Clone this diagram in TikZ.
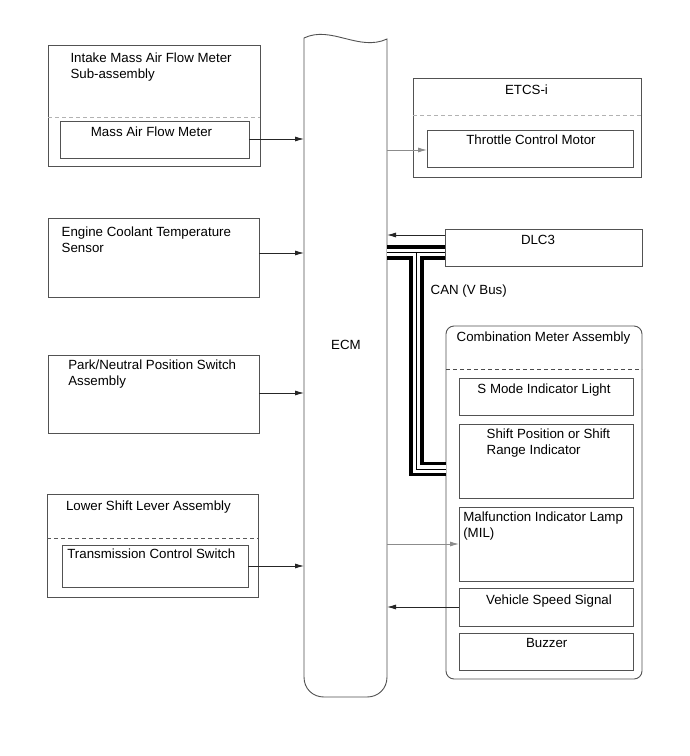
\documentclass[tikz,border=0pt]{standalone}
\usepackage{fontspec}
\setmainfont{Liberation Sans}
\usetikzlibrary{arrows.meta}
\begin{document}
\begin{tikzpicture}[x=1pt,y=-1pt,
  every node/.style={inner sep=0pt, outer sep=0pt, font=\fontsize{13.3}{16}\selectfont},
  box/.style={draw=black!68, line width=0.9pt, rectangle, anchor=north west},
  txt/.style={anchor=north west, align=left},
  ctxt/.style={anchor=north, align=center},
  dashline/.style={draw=#1, line width=0.9pt, dash pattern=on 4pt off 3pt},
  arr/.style={draw=black!85, line width=0.8pt, -{Latex[length=9pt,width=5pt]}},
  garr/.style={draw=black!45, line width=0.9pt, -{Latex[length=9pt,width=5pt]}},
  ecmline/.style={draw=black!68, line width=0.9pt},
]
\fill[white] (0,0) rectangle (689,756);
\useasboundingbox (0,0) rectangle (689,756);

% ECM
\draw[ecmline] (304,38) .. controls (331,25) and (359,52) .. (387,39)
  -- (387,677) .. controls (387,689) and (378,697) .. (367,697)
  -- (324,697) .. controls (313,697) and (304,689) .. (304,677) -- cycle;
\node[minimum width=83pt, minimum height=640pt, anchor=north west] (ecm) at (304,45) {};
\node[ctxt] (ecmlabel) at (346,340) {ECM};

% Left side
\node[box, minimum width=212pt, minimum height=121pt] (mafbox) at (48,45) {};
\node[txt] (maftxt) at (70.5,53) {Intake Mass Air Flow Meter\\Sub-assembly};
\draw[dashline=black!30] (mafbox.west |- 0,117) -- (mafbox.east |- 0,117);
\node[box, minimum width=189pt, minimum height=37pt] (maf) at (60,121) {};
\node[ctxt] (maflabel) at (151.5,126.5) {Mass Air Flow Meter};

\node[box, minimum width=211pt, minimum height=79pt] (ect) at (48,218) {};
\node[txt] (ecttxt) at (61.7,227) {Engine Coolant Temperature\\Sensor};

\node[box, minimum width=211pt, minimum height=78pt] (pnp) at (48,355) {};
\node[txt] (pnptxt) at (68.3,360) {Park/Neutral Position Switch\\Assembly};

\node[box, minimum width=211pt, minimum height=103pt] (lsl) at (47,494) {};
\node[txt] (lsltxt) at (66,500.5) {Lower Shift Lever Assembly};
\draw[dashline=black!65] (lsl.west |- 0,538) -- (lsl.east |- 0,538);
\node[box, minimum width=186pt, minimum height=42pt] (tcs) at (62,545) {};
\node[txt] (tcstxt) at (67.3,549) {Transmission Control Switch};

% Right side
\node[box, minimum width=228pt, minimum height=99pt] (etcs) at (413,78) {};
\node[ctxt] (etcstxt) at (526.5,85) {ETCS-i};
\draw[dashline=black!30] (etcs.west |- 0,115) -- (etcs.east |- 0,115);
\node[box, minimum width=206pt, minimum height=37pt] (tcm) at (427,130) {};
\node[ctxt] (tcmtxt) at (531,135) {Throttle Control Motor};

\node[box, minimum width=197pt, minimum height=37pt] (dlc) at (445,229) {};
\node[ctxt] (dlctxt) at (538,235) {DLC3};

\node[txt] (cantxt) at (430.7,285) {CAN (V Bus)};

\node[box, rounded corners=8pt, minimum width=196pt, minimum height=353pt] (comb) at (446,326) {};
\node[ctxt] (combtxt) at (543.5,331.5) {Combination Meter Assembly};
\draw[dashline=black!70] (comb.west |- 0,369) -- (comb.east |- 0,369);

\node[box, minimum width=174pt, minimum height=37pt] (smode) at (459,378) {};
\node[ctxt] (smodetxt) at (544,384) {S Mode Indicator Light};
\node[box, minimum width=174pt, minimum height=74pt] (spos) at (459,424) {};
\node[txt] (spostxt) at (486.7,429) {Shift Position or Shift\\Range Indicator};
\node[box, minimum width=174pt, minimum height=74pt] (mil) at (459,507) {};
\node[txt] (miltxt) at (463.3,511.5) {Malfunction Indicator Lamp\\(MIL)};
\node[box, minimum width=174pt, minimum height=38pt] (vss) at (459,588) {};
\node[ctxt] (vsstxt) at (549,595) {Vehicle Speed Signal};
\node[box, minimum width=174pt, minimum height=37pt] (buzz) at (459,633) {};
\node[ctxt] (buzztxt) at (546.7,638) {Buzzer};

% CAN cable
\coordinate (canA) at (ecm.east |- 0,252.5);
\coordinate (canB) at (dlc.west |- 0,252.5);
\coordinate (canT) at (416.7,252.5);
\coordinate (canC) at (416.7,469);
\coordinate (canD) at (comb.west |- 0,469);
\foreach \w/\c in {14.5pt/black, 7.5pt/white, 0.7pt/black} {
  \draw[line width=\w, draw=\c] (canA) -- (canB);
  \draw[line width=\w, draw=\c, line join=miter] (canT) -- (canC) -- (canD);
}

% Arrows
\draw[arr] (maf.east |- 0,139) -- (ecm.west |- 0,139);
\draw[arr] (ect.east |- 0,253) -- (ecm.west |- 0,253);
\draw[arr] (pnp.east |- 0,393) -- (ecm.west |- 0,393);
\draw[arr] (tcs.east |- 0,566) -- (ecm.west |- 0,566);
\draw[garr] (ecm.east |- 0,150) -- (tcm.west |- 0,150);
\draw[arr] (dlc.west |- 0,235) -- (ecm.east |- 0,235);
\draw[garr] (ecm.east |- 0,544) -- (mil.west |- 0,544);
\draw[arr] (vss.west |- 0,607) -- (ecm.east |- 0,607);
\end{tikzpicture}
\end{document}
